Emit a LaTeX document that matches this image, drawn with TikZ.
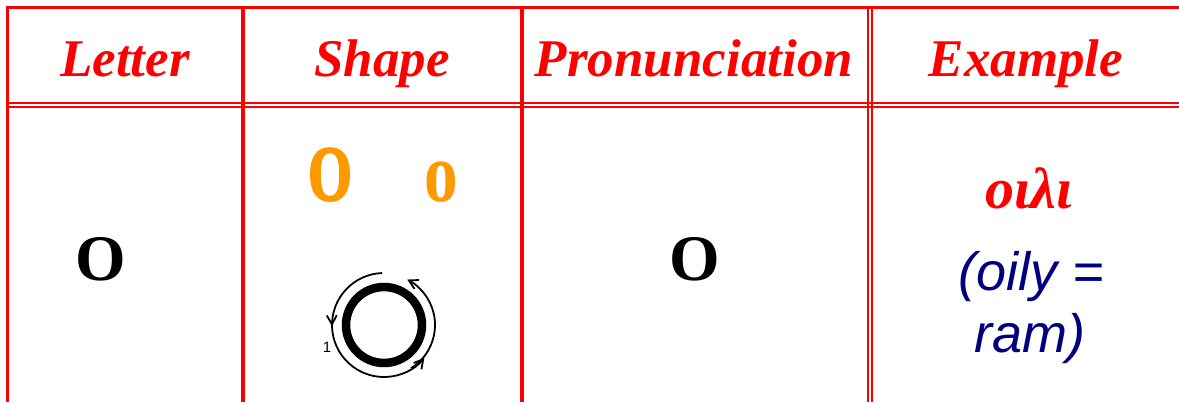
\documentclass[tikz,border=0pt]{standalone}
\usepackage{fontspec}
\setmainfont{Liberation Serif}
\setsansfont{Liberation Sans}
\newfontfamily\heavyserif[FakeBold=3]{Liberation Serif Bold}
\usetikzlibrary{arrows.meta,positioning,decorations.markings}

\definecolor{tblred}{RGB}{255,0,0}
\definecolor{shapeorange}{RGB}{255,153,0}
\definecolor{glossnavy}{RGB}{0,0,128}

\begin{document}
\begin{tikzpicture}[x=1pt, y=-1pt,
        rule/.style={draw=tblred, line width=3.5pt},
        dblrule/.style={draw=tblred, line width=2pt},
        hdr/.style={anchor=base, text=tblred, font=\fontsize{53}{60}\selectfont\bfseries\itshape},
        bigletter/.style={anchor=base, font=\fontsize{65}{70}\selectfont\bfseries},
        shapeletter/.style={anchor=base, text=shapeorange},
        stroke/.style={line width=1.8pt, -{Straight Barb[length=9pt,width=10pt]}},
        gloss/.style={anchor=base, text=glossnavy, font=\fontsize{54}{62}\selectfont\sffamily\itshape}
        ]
        \useasboundingbox (0,0) rectangle (1179,402);
        % grid
        \draw[dblrule] (7.5,103) -- (1179,103);
        \draw[dblrule] (7.5,106.5) -- (1179,106.5);
        \draw[rule] (7.5,402) -- (7.5,7.5) -- (1179,7.5);
        \draw[rule] (243,7.5) -- (243,402);
        \draw[rule] (522,7.5) -- (522,402);
        \draw[dblrule] (868,7.5) -- (868,402);
        \draw[dblrule] (872,7.5) -- (872,402);
        % header row
        \node[hdr] (hLetter) at (125,76) {Letter};
        \node[hdr] (hShape) at (382,76) {Shape};
        \node[hdr] (hPron) at (694,76) {Pronunciation};
        \node[hdr] (hExample) at (1026,76) {Example};
        % body row
        \node[bigletter] (letter) at (101,280) {O};
        \node[bigletter] (pron) at (695,280) {O};
        \node[shapeletter, font=\fontsize{78}{80}\heavyserif] (capO) at (330,200) {\scalebox{0.72}[1]{O}};
        \node[shapeletter, font=\fontsize{84}{80}\selectfont\bfseries] (smallO) at (441,201) {\scalebox{0.8}[1]{o}};
        % stroke order
        \coordinate (ctr) at (384,325);
        \draw[line width=8.5pt] (ctr) circle (38pt);
        \draw[stroke, postaction={decorate}, decoration={markings,
            mark=at position 0.39 with {\arrow{Straight Barb[length=9pt,width=10pt]}}}]
          ([shift={(92:52pt)}]ctr) arc[start angle=92, end angle=321, radius=52pt];
        \draw[stroke] ([shift={(-58:51pt)}]ctr) arc[start angle=-58, end angle=63, radius=51pt];
        \node[font=\fontsize{15}{15}\selectfont\sffamily] (num) at (327,347) {1};
        % example
        \node[anchor=base, text=tblred, font=\fontsize{58}{60}\selectfont\bfseries\itshape] (coptic) at (1029,208) {οιλι};
        \node[gloss] (gloss1) at (1031,290) {(oily =};
        \node[gloss] (gloss2) at (1030,352) {ram)};
      \end{tikzpicture}
\end{document}
